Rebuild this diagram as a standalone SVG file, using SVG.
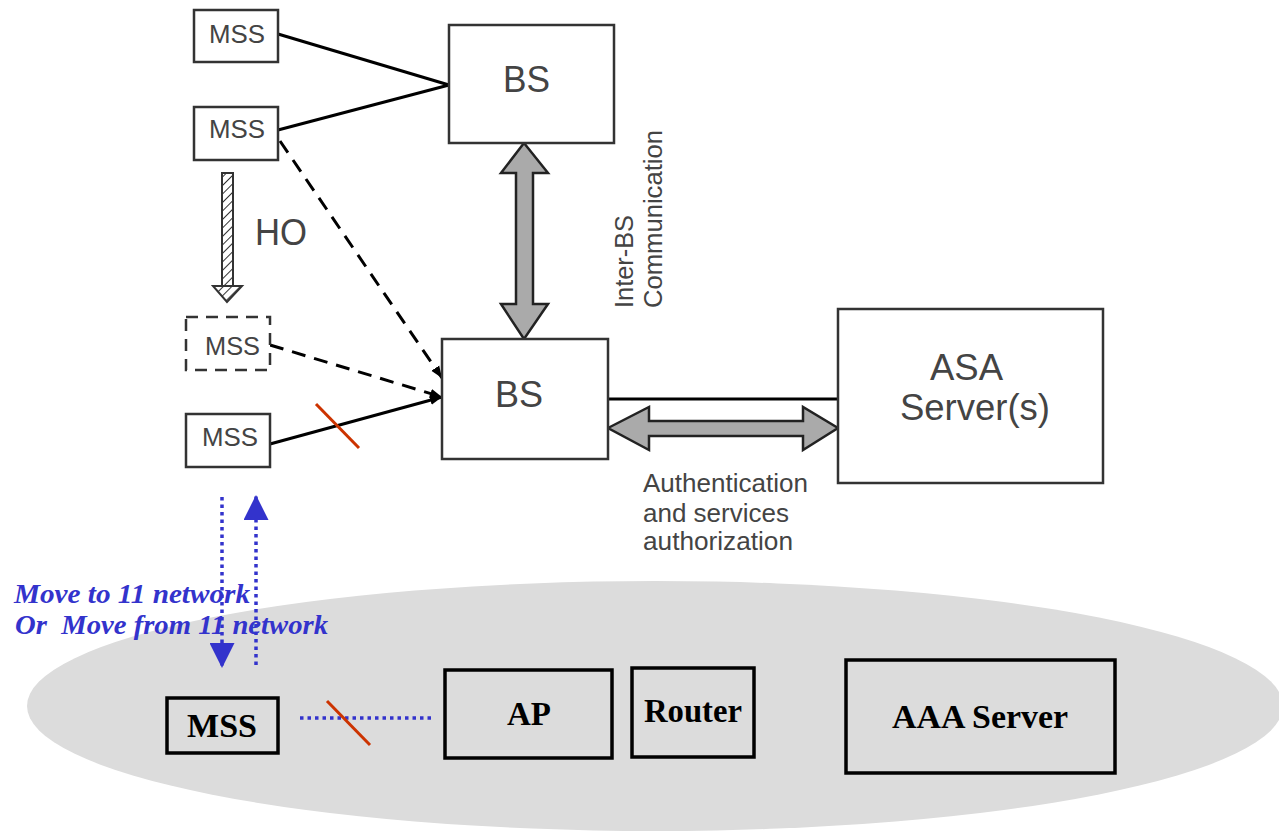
<svg xmlns="http://www.w3.org/2000/svg" width="1279" height="834" viewBox="0 0 1279 834">
<style>
.box{fill:#fff;stroke:#333;stroke-width:2.5}
.dbox{fill:#fff;stroke:#333;stroke-width:2.5;stroke-dasharray:12 8}
.bbox{fill:none;stroke:#000;stroke-width:3.5}
.ln{stroke:#000;stroke-width:3;fill:none}
.dash{stroke:#000;stroke-width:3;fill:none;stroke-dasharray:14 9}
.t{font-family:"Liberation Sans",Arial,sans-serif;fill:#444}
.b{font-family:"Liberation Serif","Times New Roman",serif;font-weight:bold;fill:#000}
.blue{font-family:"Liberation Serif","Times New Roman",serif;font-weight:bold;font-style:italic;fill:#3333cc}
.garrow{fill:#aaa;stroke:#222;stroke-width:2.5;stroke-linejoin:miter}
</style>
<defs>
<marker id="ah" viewBox="0 0 10 10" refX="10" refY="5" markerWidth="4" markerHeight="4" orient="auto" markerUnits="strokeWidth">
<path d="M0,1 L10,5 L0,9 z" fill="#000"/>
</marker>
<marker id="bh" viewBox="0 0 10 10" refX="10" refY="5" markerWidth="25" markerHeight="25" orient="auto" markerUnits="userSpaceOnUse">
<path d="M0,0 L10,5 L0,10 z" fill="#3333cc"/>
</marker>
<pattern id="hatch" width="6" height="6" patternUnits="userSpaceOnUse" patternTransform="rotate(45)">
<rect width="6" height="6" fill="#fff"/>
<line x1="0" y1="0" x2="0" y2="6" stroke="#333" stroke-width="2"/>
</pattern>
</defs>

<ellipse cx="655" cy="706" rx="628" ry="125" fill="#dcdcdc"/>

<g id="connectors">
<line class="ln" x1="278" y1="34" x2="449" y2="85"/>
<line class="ln" x1="278" y1="130" x2="449" y2="85"/>
<line class="dash" x1="280" y1="141" x2="442" y2="378" marker-end="url(#ah)"/>
<line class="dash" x1="270" y1="345" x2="442" y2="397" marker-end="url(#ah)"/>
<line class="ln" x1="270" y1="444" x2="442" y2="397" marker-end="url(#ah)"/>
<line x1="316" y1="404" x2="359" y2="448" stroke="#cc3300" stroke-width="3"/>
<polygon class="garrow" points="524,143 501,173 516,173 516,304 501,304 524,339 548,304 533,304 533,173 548,173 524,143"/>
<line class="ln" x1="608" y1="399" x2="838" y2="399"/>
<polygon class="garrow" points="608,428 649,407 649,421 803,421 803,407 838,428 803,450 803,436 649,436 649,450 608,428"/>
<rect x="222" y="173" width="11" height="113" fill="url(#hatch)" stroke="#333" stroke-width="2"/>
<polygon points="213,286 242,286 227,302" fill="url(#hatch)" stroke="#333" stroke-width="2"/>
<line x1="222" y1="497" x2="222" y2="668" stroke="#3333cc" stroke-width="3.5" stroke-dasharray="3.5 4" marker-end="url(#bh)"/>
<line x1="256" y1="665" x2="256" y2="495" stroke="#3333cc" stroke-width="3.5" stroke-dasharray="3.5 4" marker-end="url(#bh)"/>
<line x1="300" y1="718" x2="432" y2="718" stroke="#3333cc" stroke-width="3.5" stroke-dasharray="3.5 4"/>
<line x1="327" y1="701" x2="370" y2="745" stroke="#cc3300" stroke-width="3"/>
</g>

<g id="mss1"><rect class="box" x="194" y="10" width="84" height="52"/><text class="t" x="209" y="43" font-size="25" textLength="56" lengthAdjust="spacingAndGlyphs">MSS</text></g>
<g id="mss2"><rect class="box" x="194" y="107" width="84" height="53"/><text class="t" x="209" y="138" font-size="25" textLength="56" lengthAdjust="spacingAndGlyphs">MSS</text></g>
<g id="mss3"><rect class="dbox" x="186" y="317" width="84" height="53"/><text class="t" x="205" y="355" font-size="25" textLength="55" lengthAdjust="spacingAndGlyphs">MSS</text></g>
<g id="mss4"><rect class="box" x="186" y="414" width="84" height="53"/><text class="t" x="202" y="446" font-size="25" textLength="56" lengthAdjust="spacingAndGlyphs">MSS</text></g>
<g id="bs1"><rect class="box" x="449" y="25" width="165" height="118"/><text class="t" x="503" y="92" font-size="37" textLength="47" lengthAdjust="spacingAndGlyphs">BS</text></g>
<g id="bs2"><rect class="box" x="442" y="339" width="166" height="120"/><text class="t" x="495" y="407" font-size="37" textLength="48" lengthAdjust="spacingAndGlyphs">BS</text></g>
<g id="asa"><rect class="box" x="838" y="309" width="265" height="174"/>
<text class="t" x="930" y="380" font-size="37" textLength="73" lengthAdjust="spacingAndGlyphs">ASA</text>
<text class="t" x="900" y="420" font-size="37" textLength="150" lengthAdjust="spacingAndGlyphs">Server(s)</text></g>
<g id="labels">
<text class="t" x="255" y="245" font-size="37" textLength="52" lengthAdjust="spacingAndGlyphs">HO</text>
<text class="t" transform="translate(633,308) rotate(-90)" font-size="26" textLength="93" lengthAdjust="spacingAndGlyphs">Inter-BS</text>
<text class="t" transform="translate(662,308) rotate(-90)" font-size="26" textLength="178" lengthAdjust="spacingAndGlyphs">Communication</text>
<text class="t" x="643" y="492" font-size="25" textLength="165" lengthAdjust="spacingAndGlyphs">Authentication</text>
<text class="t" x="643" y="522" font-size="25" textLength="146" lengthAdjust="spacingAndGlyphs">and services</text>
<text class="t" x="643" y="550" font-size="25" textLength="150" lengthAdjust="spacingAndGlyphs">authorization</text>
<text class="blue" x="14" y="603" font-size="28" textLength="236" lengthAdjust="spacingAndGlyphs">Move to 11 network</text>
<text class="blue" x="15" y="634" font-size="28" textLength="313" lengthAdjust="spacingAndGlyphs" xml:space="preserve">Or  Move from 11 network</text>
</g>
<g id="mss5"><rect class="bbox" x="167" y="698" width="111" height="55"/><text class="b" x="187" y="737" font-size="34" textLength="70" lengthAdjust="spacingAndGlyphs">MSS</text></g>
<g id="ap"><rect class="bbox" x="445" y="670" width="167" height="88"/><text class="b" x="507" y="725" font-size="33" textLength="44" lengthAdjust="spacingAndGlyphs">AP</text></g>
<g id="router"><rect class="bbox" x="632" y="668" width="122" height="89"/><text class="b" x="644" y="722" font-size="33" textLength="98" lengthAdjust="spacingAndGlyphs">Router</text></g>
<g id="aaa"><rect class="bbox" x="846" y="660" width="269" height="113"/><text class="b" x="892" y="728" font-size="33" textLength="176" lengthAdjust="spacingAndGlyphs">AAA Server</text></g>
</svg>
